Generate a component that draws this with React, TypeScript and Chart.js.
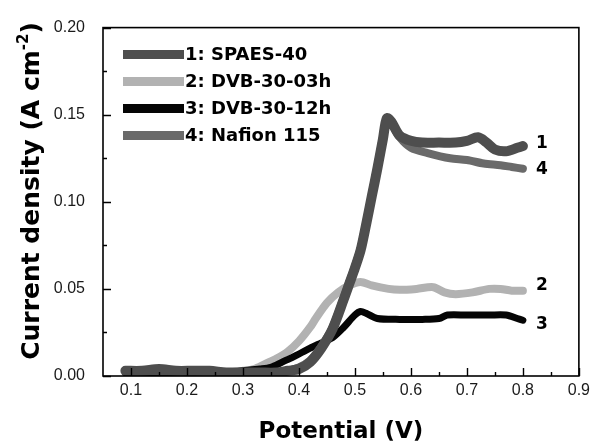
import React, { useEffect, useRef } from 'react';
import { Chart, registerables } from 'chart.js';

Chart.register(...registerables);

// ---------- data ----------
const seriesNames = ['1: SPAES-40', '2: DVB-30-03h', '3: DVB-30-12h', '4: Nafion 115'];
const endLabels = ['1', '2', '3', '4'];
const seriesColors = ['#4e4e4e', '#b2b2b2', '#050505', '#6a6a6a'];
const seriesWidths = [10, 8, 7, 8];

const spaesX = [0.09, 0.12, 0.15, 0.18, 0.21, 0.24, 0.27, 0.30, 0.33, 0.36, 0.38, 0.40, 0.42, 0.44, 0.46, 0.48, 0.49, 0.50, 0.51, 0.52, 0.53, 0.54, 0.55, 0.557, 0.565, 0.58, 0.60, 0.62, 0.65, 0.68, 0.70, 0.72, 0.735, 0.75, 0.77, 0.79, 0.80];
const spaesY = [0.003, 0.003, 0.004, 0.003, 0.003, 0.003, 0.002, 0.002, 0.002, 0.002, 0.003, 0.004, 0.008, 0.016, 0.027, 0.044, 0.053, 0.062, 0.072, 0.087, 0.103, 0.119, 0.136, 0.148, 0.146, 0.138, 0.135, 0.134, 0.134, 0.134, 0.135, 0.137, 0.134, 0.130, 0.129, 0.131, 0.132];

const dvb03X = [0.09, 0.12, 0.15, 0.18, 0.21, 0.24, 0.27, 0.30, 0.32, 0.34, 0.36, 0.38, 0.40, 0.42, 0.43, 0.45, 0.47, 0.49, 0.51, 0.53, 0.56, 0.58, 0.61, 0.64, 0.66, 0.68, 0.71, 0.74, 0.76, 0.78, 0.80];
const dvb03Y = [0.002, 0.002, 0.003, 0.002, 0.002, 0.002, 0.002, 0.003, 0.004, 0.007, 0.010, 0.014, 0.020, 0.028, 0.033, 0.042, 0.048, 0.052, 0.054, 0.052, 0.050, 0.0495, 0.050, 0.051, 0.048, 0.047, 0.048, 0.050, 0.050, 0.049, 0.049];

const dvb12X = [0.09, 0.12, 0.15, 0.18, 0.21, 0.24, 0.27, 0.30, 0.33, 0.35, 0.37, 0.39, 0.42, 0.44, 0.46, 0.48, 0.50, 0.51, 0.52, 0.54, 0.58, 0.62, 0.65, 0.665, 0.70, 0.74, 0.77, 0.79, 0.80];
const dvb12Y = [0.002, 0.002, 0.002, 0.002, 0.002, 0.002, 0.002, 0.003, 0.004, 0.005, 0.008, 0.011, 0.016, 0.019, 0.022, 0.028, 0.035, 0.037, 0.036, 0.033, 0.0325, 0.0325, 0.033, 0.035, 0.035, 0.035, 0.035, 0.033, 0.032];

const nafionX = [0.09, 0.12, 0.15, 0.18, 0.21, 0.24, 0.27, 0.30, 0.33, 0.36, 0.38, 0.40, 0.42, 0.44, 0.46, 0.48, 0.49, 0.50, 0.51, 0.52, 0.53, 0.54, 0.55, 0.557, 0.565, 0.58, 0.60, 0.63, 0.67, 0.70, 0.73, 0.76, 0.78, 0.80];
const nafionY = [0.003, 0.003, 0.003, 0.003, 0.003, 0.002, 0.002, 0.002, 0.002, 0.002, 0.003, 0.005, 0.009, 0.017, 0.028, 0.045, 0.054, 0.063, 0.073, 0.088, 0.104, 0.120, 0.137, 0.148, 0.145, 0.137, 0.131, 0.128, 0.125, 0.124, 0.122, 0.121, 0.120, 0.119];

const seriesX = [spaesX, dvb03X, dvb12X, nafionX];
const seriesY = [spaesY, dvb03Y, dvb12Y, nafionY];
const drawOrder = [0, 3, 2, 1];
const endLabelDy = [-2, -5, 4, 1];

const xMajorTicks = [0.1, 0.2, 0.3, 0.4, 0.5, 0.6, 0.7, 0.8, 0.9];
const xMinorTicks = [0.15, 0.25, 0.35, 0.45, 0.55, 0.65, 0.75, 0.85];
const yMajorTicks = [0, 0.05, 0.1, 0.15, 0.2];
const yMinorTicks = [0.025, 0.075, 0.125, 0.175];

const xTitle = 'Potential (V)';
const yTitleMain = 'Current density (A cm';
const yTitleSup = '-2';
const yTitleEnd = ')';

const BOLD = '"DejaVu Sans", Verdana, sans-serif';
const TICKFONT = '"Liberation Sans", Arial, sans-serif';

const decorPlugin = {
  id: 'decor',
  afterDatasetsDraw(chart: any) {
    const { ctx, chartArea: a, scales } = chart;
    const xs = scales.x;
    const ys = scales.y;
    ctx.save();
    // frame
    ctx.strokeStyle = '#000';
    ctx.lineWidth = 1.6;
    ctx.strokeRect(a.left, a.top, a.right - a.left, a.bottom - a.top);
    // inward ticks
    ctx.lineWidth = 1.4;
    ctx.beginPath();
    xMajorTicks.forEach((v) => {
      const p = Math.round(xs.getPixelForValue(v)) + 0.5;
      ctx.moveTo(p, a.bottom);
      ctx.lineTo(p, a.bottom - 8);
    });
    xMinorTicks.forEach((v) => {
      const p = Math.round(xs.getPixelForValue(v)) + 0.5;
      ctx.moveTo(p, a.bottom);
      ctx.lineTo(p, a.bottom - 4);
    });
    yMajorTicks.forEach((v) => {
      const p = Math.round(ys.getPixelForValue(v)) + 0.5;
      ctx.moveTo(a.left, p);
      ctx.lineTo(a.left + 8, p);
    });
    yMinorTicks.forEach((v) => {
      const p = Math.round(ys.getPixelForValue(v)) + 0.5;
      ctx.moveTo(a.left, p);
      ctx.lineTo(a.left + 4, p);
    });
    ctx.stroke();

    // legend
    ctx.textBaseline = 'middle';
    ctx.textAlign = 'left';
    ctx.font = `bold 18px ${BOLD}`;
    seriesNames.forEach((name, i) => {
      const yy = a.top + 27 + i * 27;
      ctx.strokeStyle = seriesColors[i];
      ctx.lineWidth = 9;
      ctx.lineCap = 'butt';
      ctx.beginPath();
      ctx.moveTo(a.left + 20, yy);
      ctx.lineTo(a.left + 81, yy);
      ctx.stroke();
      ctx.fillStyle = '#000';
      ctx.fillText(name, a.left + 82, yy + 1);
    });

    // end labels
    ctx.font = `bold 17px ${BOLD}`;
    ctx.textAlign = 'center';
    endLabels.forEach((lab, i) => {
      const xv = seriesX[i][seriesX[i].length - 1];
      const yv = seriesY[i][seriesY[i].length - 1];
      const px = xs.getPixelForValue(xv) + 19;
      const py = ys.getPixelForValue(yv) + endLabelDy[i];
      ctx.fillText(lab, px, py);
    });

    // x title
    ctx.font = `bold 23px ${BOLD}`;
    ctx.textBaseline = 'alphabetic';
    ctx.textAlign = 'center';
    ctx.fillText(xTitle, (a.left + a.right) / 2, 438);

    // y title with superscript
    const mainFont = `bold 25px ${BOLD}`;
    const supFont = `bold 15px ${BOLD}`;
    ctx.font = mainFont;
    const w1 = ctx.measureText(yTitleMain).width;
    const w3 = ctx.measureText(yTitleEnd).width;
    ctx.font = supFont;
    const w2 = ctx.measureText(yTitleSup).width;
    const total = w1 + w2 + w3;
    ctx.translate(39, 191);
    ctx.rotate(-Math.PI / 2);
    ctx.textAlign = 'left';
    let cx = -total / 2;
    ctx.font = mainFont;
    ctx.fillText(yTitleMain, cx, 0);
    cx += w1;
    ctx.font = supFont;
    ctx.fillText(yTitleSup, cx, -11);
    cx += w2;
    ctx.font = mainFont;
    ctx.fillText(yTitleEnd, cx, 0);
    ctx.restore();
  },
};

export default function App() {
  const ref = useRef<HTMLCanvasElement | null>(null);
  useEffect(() => {
    if (!ref.current) return;
    const datasets = seriesNames.map((name, i) => ({
      label: name,
      data: seriesX[i].map((x, j) => ({ x, y: seriesY[i][j] })),
      borderColor: seriesColors[i],
      backgroundColor: seriesColors[i],
      borderWidth: seriesWidths[i],
      pointRadius: 0,
      tension: 0.3,
      borderCapStyle: 'round' as const,
      borderJoinStyle: 'round' as const,
      order: drawOrder[i],
      fill: false,
    }));
    const chart = new Chart(ref.current, {
      type: 'line',
      data: { datasets },
      options: {
        animation: false,
        responsive: false,
        maintainAspectRatio: false,
        layout: { padding: { top: 18, right: 15, left: 0, bottom: 0 } },
        plugins: { legend: { display: false }, tooltip: { enabled: false } },
        scales: {
          x: {
            type: 'linear',
            min: 0.05,
            max: 0.9,
            grid: { display: false, drawTicks: false },
            border: { display: false },
            afterBuildTicks: (s: any) => {
              s.ticks = xMajorTicks.map((v) => ({ value: v }));
            },
            afterFit: (s: any) => {
              s.height = 72;
            },
            ticks: {
              padding: 5,
              maxRotation: 0,
              autoSkip: false,
              color: '#1a1a1a',
              font: { family: TICKFONT, size: 16 },
              callback: (v: any) => Number(v).toFixed(1),
            },
          },
          y: {
            type: 'linear',
            min: 0,
            max: 0.2,
            grid: { display: false, drawTicks: false },
            border: { display: false },
            afterBuildTicks: (s: any) => {
              s.ticks = yMajorTicks.map((v) => ({ value: v }));
            },
            afterFit: (s: any) => {
              s.width = 103;
            },
            ticks: {
              padding: 18,
              autoSkip: false,
              color: '#1a1a1a',
              font: { family: TICKFONT, size: 16 },
              callback: (v: any) => Number(v).toFixed(2),
            },
          },
        },
      },
      plugins: [decorPlugin],
    });
    return () => chart.destroy();
  }, []);
  return (
    <div style={{ position: 'absolute', left: 0, top: 0, width: 595, height: 448, background: '#fff' }}>
      <canvas ref={ref} width={595} height={448} />
    </div>
  );
}
